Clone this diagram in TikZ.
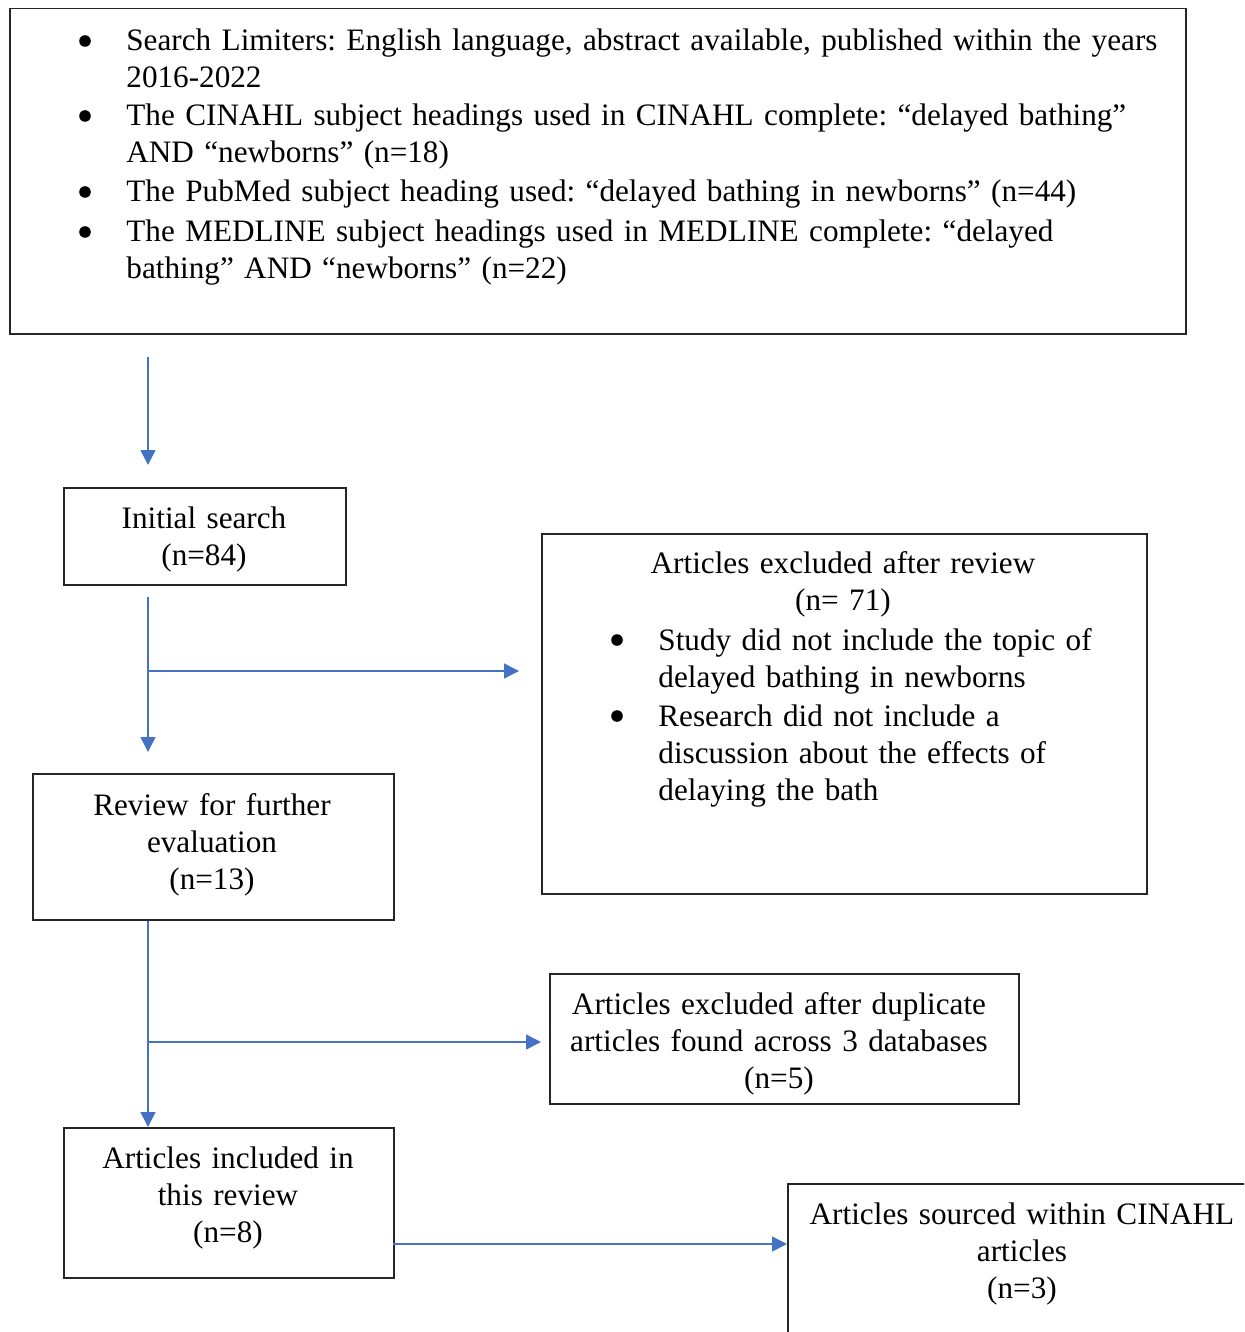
\documentclass[tikz,border=0pt]{standalone}
\usepackage{fontspec}
\setmainfont{Liberation Serif}
\usetikzlibrary{arrows.meta}
\definecolor{flowblue}{HTML}{4472C4}
\frenchspacing

\tikzset{
  box/.style={draw=black!85, line width=0.75pt, anchor=north west, inner sep=0pt},
  flow/.style={draw=flowblue, line width=0.75pt, -{Triangle[length=7.5pt,width=7.5pt,fill=flowblue]}},
  txt/.style={anchor=base, align=center, inner sep=0pt, text width=#1, font=\fontsize{15.6}{18.5}\selectfont},
  txt/.default=300pt,
  itemtxt/.style={anchor=base west, align=left, inner sep=0pt, text width=#1, font=\fontsize{15.6}{18.5}\selectfont},
  itemtxt/.default=560pt,
  dot/.style={circle, fill=black, inner sep=0pt, minimum size=5.8pt},
}

\begin{document}
\begin{tikzpicture}[x=0.5pt, y=-0.5pt]
  \useasboundingbox (0,0) rectangle (1244,1332);
  \clip (0,0) rectangle (1244,1332);

  % Search box
  \node[box, minimum width=588pt, minimum height=162.5pt] (search) at (9,8) {};
  \node[dot] (b1) at (85,41) {};
  \node[itemtxt] (it1) at (126,51) {Search Limiters: English language, abstract available, published within the years\\2016-2022};
  \node[dot] (b2) at (85,116) {};
  \node[itemtxt] (it2) at (126,126) {The CINAHL subject headings used in CINAHL complete: “delayed bathing”\\AND “newborns” (n=18)};
  \node[dot] (b3) at (85,192) {};
  \node[itemtxt] (it3) at (126,202) {The PubMed subject heading used: “delayed bathing in newborns” (n=44)};
  \node[dot] (b4) at (85,232) {};
  \node[itemtxt] (it4) at (126,242) {The MEDLINE subject headings used in MEDLINE complete: “delayed\\bathing” AND “newborns” (n=22)};

  % Initial search
  \node[box, minimum width=141pt, minimum height=48.5pt] (initial) at (63,487) {};
  \node[txt=140pt] (initialtxt) at (204,528) {Initial search\\(n=84)};

  % Excluded after review
  \node[box, minimum width=302.5pt, minimum height=180pt] (excluded) at (541,533) {};
  \node[txt] (excludedtxt) at (843,573) {Articles excluded after review\\(n= 71)};
  \node[dot] (b5) at (617,640) {};
  \node[itemtxt=230pt] (it5) at (658,650) {Study did not include the topic of\\delayed bathing in newborns};
  \node[dot] (b6) at (617,716) {};
  \node[itemtxt=230pt] (it6) at (658,726) {Research did not include a\\discussion about the effects of\\delaying the bath};

  % Review for further evaluation
  \node[box, minimum width=180.5pt, minimum height=73pt] (review) at (32,773) {};
  \node[txt=170pt] (reviewtxt) at (212,815) {Review for further\\evaluation\\(n=13)};

  % Excluded duplicates
  \node[box, minimum width=234.5pt, minimum height=65pt] (dup) at (549,973) {};
  \node[txt=230pt] (duptxt) at (779,1014) {Articles excluded after duplicate\\articles found across 3 databases\\(n=5)};

  % Included
  \node[box, minimum width=165pt, minimum height=75pt] (included) at (63,1127) {};
  \node[txt=160pt] (includedtxt) at (228,1168) {Articles included in\\this review\\(n=8)};

  % Sourced within CINAHL (runs off the page)
  \node[box, minimum width=300pt, minimum height=100pt] (sourced) at (787,1183) {};
  \node[txt=230pt] (sourcedtxt) at (1022,1224) {Articles sourced within CINAHL\\articles\\(n=3)};

  % Arrows
  \coordinate (a1s) at (148,357);
  \coordinate (a1e) at (148,465);
  \draw[flow] (a1s) -- (a1e);

  \coordinate (a2s) at (148,597);
  \coordinate (a2e) at (148,752);
  \coordinate (a2b) at (148,671);
  \coordinate (a2t) at (519,671);
  \draw[flow] (a2s) -- (a2e);
  \draw[flow] (a2b) -- (a2t);

  \coordinate (a3b) at (148,1042);
  \coordinate (a3t) at (541,1042);
  \draw[flow] (review.south -| a3b) -- (included.north -| a3b);
  \draw[flow] (a3b) -- (a3t);

  \coordinate (a4) at (393,1244);
  \draw[flow] (a4) -- (sourced.west |- a4);
\end{tikzpicture}
\end{document}
